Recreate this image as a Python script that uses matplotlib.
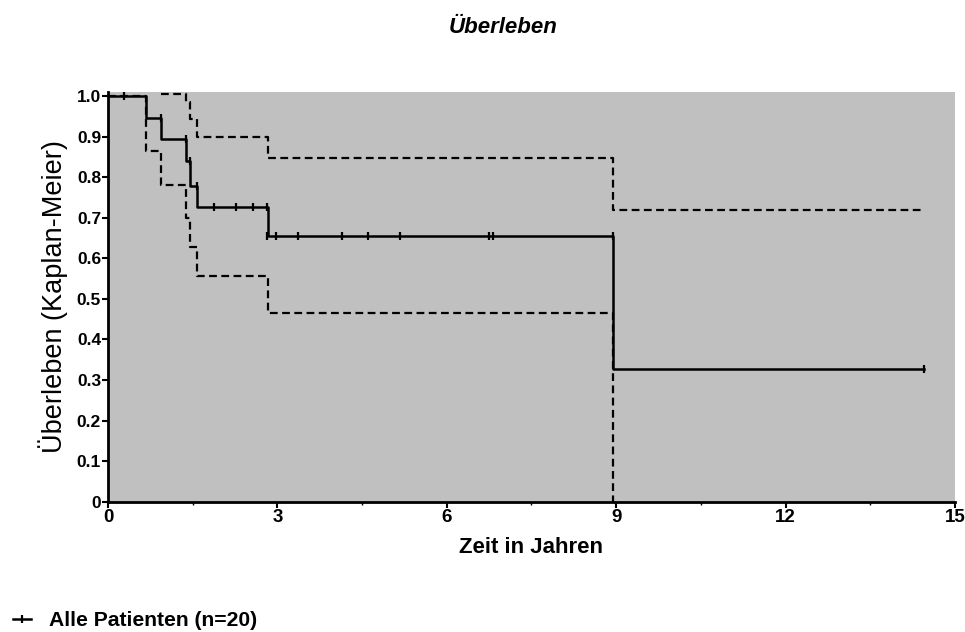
#--------------------#
# LIBRARIES IMPORTED #
#--------------------#

import numpy as np
import matplotlib
matplotlib.use('Agg')
import matplotlib.pyplot as plt
from matplotlib.lines import Line2D

#--------#
# INPUTS #
#--------#

# Kaplan-Meier estimate (step times in years, survival after each step)
km_time = [0, 0.67, 0.94, 1.39, 1.45, 1.58, 2.84, 8.94, 14.46]
km_surv = [1.0, 0.947, 0.895, 0.839, 0.779, 0.727, 0.655, 0.327, 0.327]

# Upper 95% confidence band (above 1 before 0.94 -> not visible)
ci_up_time = [0.94, 1.39, 1.45, 1.58, 2.84, 8.94, 14.46]
ci_up_val  = [1.006, 0.984, 0.943, 0.900, 0.846, 0.720, 0.720]

# Lower 95% confidence band
ci_lo_time = [0, 0.67, 0.94, 1.39, 1.45, 1.58, 2.84, 8.94]
ci_lo_val  = [1.0, 0.865, 0.780, 0.700, 0.627, 0.556, 0.464, 0.0]

# Censored observations
cens_time = [0.28, 0.94, 1.39, 1.45, 1.57, 1.88, 2.27, 2.57, 2.82,
             2.82, 2.97, 3.37, 4.14, 4.60, 5.17, 6.75, 6.82, 8.94, 14.46]
cens_surv = [1.0, 0.947, 0.895, 0.839, 0.779, 0.727, 0.727, 0.727, 0.727,
             0.655, 0.655, 0.655, 0.655, 0.655, 0.655, 0.655, 0.655, 0.655, 0.327]

x_ticks = [0, 3, 6, 9, 12, 15]
y_ticks = [0, 0.1, 0.2, 0.3, 0.4, 0.5, 0.6, 0.7, 0.8, 0.9, 1.0]
y_tick_labels = ['0', '0.1', '0.2', '0.3', '0.4', '0.5', '0.6', '0.7', '0.8', '0.9', '1.0']

title_txt  = 'Überleben'
xlabel_txt = 'Zeit in Jahren'
ylabel_txt = 'Überleben (Kaplan-Meier)'
legend_txt = 'Alle Patienten (n=20)'

#----------------#
# Visualization  #
#----------------#

arial = ['Liberation Sans', 'DejaVu Sans']

fig = plt.figure(figsize=(9.65, 6.32), dpi=100)
fig.patch.set_facecolor('white')
ax = fig.add_axes([0.1119, 0.2062, 0.8777, 0.6487])
ax.set_facecolor('#c0c0c0')

# confidence band
ax.step(ci_up_time, ci_up_val, where='post', color='k', lw=1.6,
        linestyle=(0, (3.5, 2.0)), zorder=2)
ax.step(ci_lo_time, ci_lo_val, where='post', color='k', lw=1.6,
        linestyle=(0, (3.5, 2.0)), zorder=2)

# survival curve + censor marks
ax.step(km_time, km_surv, where='post', color='k', lw=1.8, zorder=3)
ax.plot(cens_time, cens_surv, linestyle='none', marker='|', markersize=6,
        markeredgewidth=1.6, color='k', zorder=4)

ax.set_xlim(0, 15)
ax.set_ylim(0, 1.0106)

# axes fine tuning
for s in ['top', 'right']:
    ax.spines[s].set_visible(False)
for s in ['left', 'bottom']:
    ax.spines[s].set_linewidth(2.0)

ax.set_xticks(x_ticks)
ax.set_xticks(np.arange(1.5, 15, 3), minor=True)
ax.set_yticks(y_ticks)
ax.set_yticklabels(y_tick_labels)
ax.tick_params(axis='both', which='major', direction='out', length=4,
               width=1.5, pad=1)
ax.tick_params(axis='x', which='minor', direction='out', length=2.5, width=1.0)

for lab in ax.get_yticklabels():
    lab.set_family(arial)
    lab.set_fontweight('bold')
    lab.set_fontsize(12.5)
for lab in ax.get_xticklabels():
    lab.set_family(arial)
    lab.set_fontweight('bold')
    lab.set_fontsize(13.5)

ax.set_xlabel(xlabel_txt, family=arial, fontweight='bold', fontsize=16,
              labelpad=8)
ax.set_ylabel(ylabel_txt, family=arial, fontsize=19.5, labelpad=6)

fig.text(0.521, 0.957, title_txt, family=arial, fontweight='bold',
         style='italic', fontsize=16, ha='center', va='center')

# legend
handle = Line2D([0], [0], color='k', lw=1.8, marker='|', markersize=6,
                markeredgewidth=1.6)
fig.legend([handle], [legend_txt], loc='center left',
           bbox_to_anchor=(0.003, 0.018), frameon=False, handlelength=0.85,
           handletextpad=0.85, borderpad=0,
           prop={'family': arial, 'weight': 'bold', 'size': 15.2})

fig.savefig('out.png', dpi=100)
